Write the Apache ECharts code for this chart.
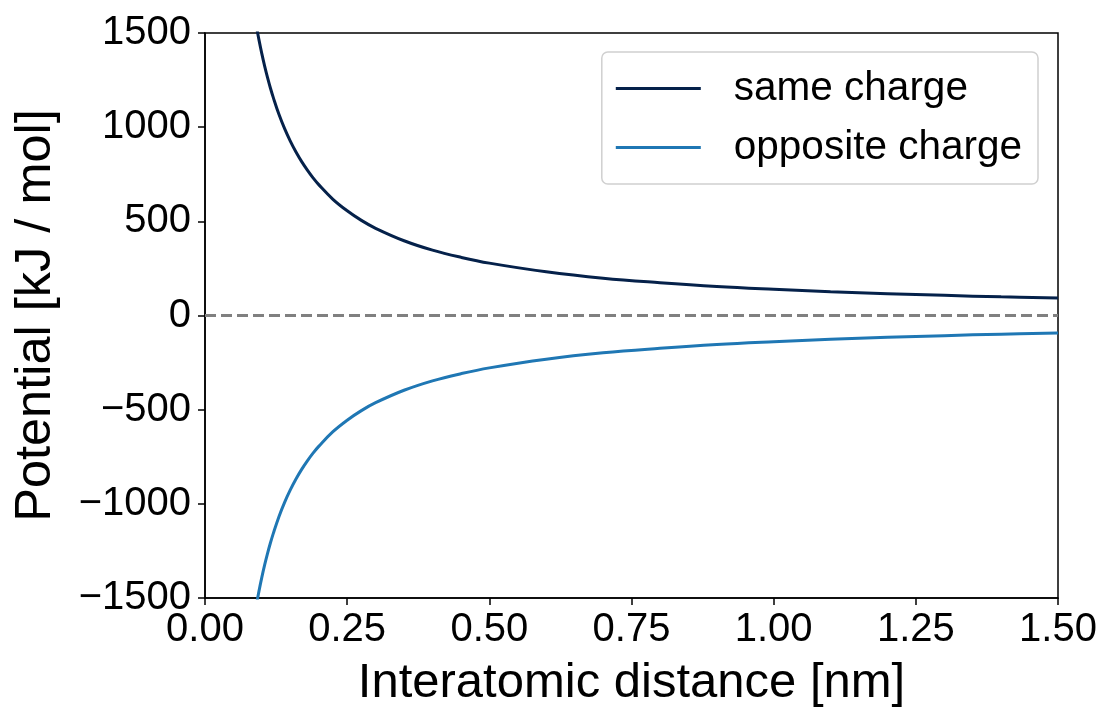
<!DOCTYPE html>
<html>
<head>
<meta charset="utf-8">
<script src="https://cdn.jsdelivr.net/npm/echarts@6/dist/echarts.min.js"></script>
<style>html,body{margin:0;padding:0;background:#fff;}#c{width:1100px;height:707px;}</style>
</head>
<body>
<div id="c"></div>
<script>
const distances = [0.09,0.095,0.1,0.105,0.11,0.115,0.12,0.13,0.14,0.15,0.16,0.17,0.18,0.19,0.2,0.225,0.25,0.275,0.3,0.35,0.4,0.45,0.5,0.6,0.7,0.8,0.9,1.0,1.1,1.2,1.3,1.4,1.5];
const sameCharge = [1543,1462,1389,1323,1263,1208,1158,1068,992,926,868,817,772,731,695,617,556,505,463,397,347,309,278,232,198,174,154,139,126,116,107,99,93];
const oppositeCharge = [-1543,-1462,-1389,-1323,-1263,-1208,-1158,-1068,-992,-926,-868,-817,-772,-731,-695,-617,-556,-505,-463,-397,-347,-309,-278,-232,-198,-174,-154,-139,-126,-116,-107,-99,-93];
const zeroX = [0, 1.5];
const zeroY = [0, 0];
const seriesNames = ['same charge', 'opposite charge'];
const xTitle = 'Interatomic distance [nm]';
const yTitle = 'Potential [kJ / mol]';

const font = 'Liberation Sans, Arial, Helvetica, sans-serif';
const pair = (xs, ys) => xs.map((x, i) => [x, ys[i]]);

const chart = echarts.init(document.getElementById('c'));
chart.setOption({
  animation: false,
  backgroundColor: '#fff',
  grid: { left: 205, right: 42, top: 33, bottom: 109, outerBoundsMode: 'none', containLabel: false,
          show: true, borderColor: '#000', borderWidth: 1.5, backgroundColor: 'transparent' },
  legend: {
    orient: 'vertical', right: 62, top: 52,
    data: seriesNames,
    icon: 'rect', itemWidth: 85, itemHeight: 3, itemGap: 18,
    padding: [16, 16, 16, 14],
    borderColor: '#d0d0d0', borderWidth: 1.5, borderRadius: 6, backgroundColor: '#fff',
    textStyle: { fontFamily: font, fontSize: 40.5, color: '#000', padding: [0, 0, 0, 28] }
  },
  xAxis: {
    type: 'value', min: 0, max: 1.5, interval: 0.25,
    name: xTitle, nameLocation: 'middle', nameGap: 61,
    nameTextStyle: { fontFamily: font, fontSize: 49, color: '#000' },
    axisLine: { show: true, onZero: false, lineStyle: { color: '#000', width: 1.5 } },
    axisTick: { show: true, inside: false, length: 7, lineStyle: { color: '#000', width: 1.5 } },
    axisLabel: { fontFamily: font, fontSize: 40, color: '#000', margin: 12, formatter: v => v.toFixed(2) },
    splitLine: { show: false }
  },
  yAxis: {
    type: 'value', min: -1500, max: 1500, interval: 500,
    name: yTitle, nameLocation: 'middle', nameGap: 143,
    nameTextStyle: { fontFamily: font, fontSize: 50.5, color: '#000' },
    axisLine: { show: true, onZero: false, lineStyle: { color: '#000', width: 1.5 } },
    axisTick: { show: true, inside: false, length: 7, lineStyle: { color: '#000', width: 1.5 } },
    axisLabel: { fontFamily: font, fontSize: 40, color: '#000', margin: 14, formatter: v => v < 0 ? '\u2212' + Math.abs(v) : String(v) },
    splitLine: { show: false }
  },
  series: [
    { name: 'zero', type: 'line', data: pair(zeroX, zeroY), symbol: 'none', silent: true,
      lineStyle: { color: '#808080', width: 3, type: [11, 5] }, z: 1 },
    { name: seriesNames[0], type: 'line', data: pair(distances, sameCharge), symbol: 'none', smooth: 0.4,
      itemStyle: { color: '#05214a' }, lineStyle: { color: '#05214a', width: 3 }, z: 3 },
    { name: seriesNames[1], type: 'line', data: pair(distances, oppositeCharge), symbol: 'none', smooth: 0.4,
      itemStyle: { color: '#1f77b4' }, lineStyle: { color: '#1f77b4', width: 3 }, z: 3 }
  ]
});
</script>
</body>
</html>
